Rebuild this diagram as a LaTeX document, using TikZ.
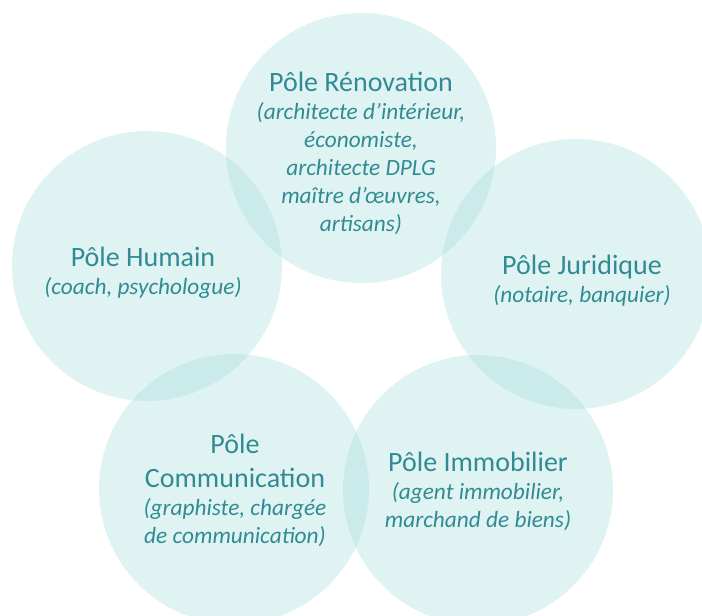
\documentclass[tikz,border=0pt]{standalone}
\usepackage{fontspec}
\setmainfont{Carlito}
\definecolor{poleFill}{RGB}{164,221,218}
\definecolor{poleText}{RGB}{49,139,148}
\newcommand{\poletitle}[1]{{\upshape\fontsize{28}{34}\selectfont #1}}

\begin{document}
\begin{tikzpicture}[x=1pt,y=-1pt,
  pole/.style={circle,fill=poleFill,fill opacity=0.35,minimum size=270pt,inner sep=0pt},
  poletext/.style={text=poleText,align=center,font=\fontsize{23.3}{28}\selectfont\itshape}]

\clip (0,0) rectangle (702,616);

\node (renov) at (361,148) [pole] {};
\node (humain) at (147,266) [pole] {};
\node (jurid) at (576,274) [pole] {};
\node (comm) at (234,489) [pole] {};
\node (immo) at (478,490) [pole] {};

\node (renovtxt) at (361,153) [poletext] {\poletitle{Pôle Rénovation}\\(architecte d’intérieur,\\économiste,\\architecte DPLG\\maître d’œuvres,\\artisans)};
\node (humaintxt) at (143,273) [poletext] {\poletitle{Pôle Humain}\\(coach, psychologue)};
\node (juridtxt) at (582,281) [poletext] {\poletitle{Pôle Juridique}\\(notaire, banquier)};
\node (commtxt) at (235,490) [poletext] {\poletitle{Pôle}\\[6pt]\poletitle{Communication}\\(graphiste, chargée\\de communication)};
\node (immotxt) at (478,491) [poletext] {\poletitle{Pôle Immobilier}\\(agent immobilier,\\marchand de biens)};

\end{tikzpicture}
\end{document}
